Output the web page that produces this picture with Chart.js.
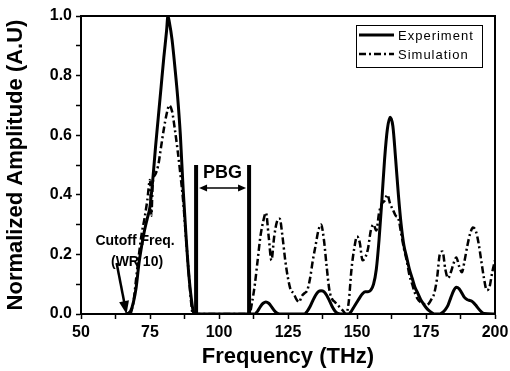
<!DOCTYPE html>
<html>
<head>
<meta charset="utf-8">
<script src="https://cdn.jsdelivr.net/npm/chart.js@4.4.0/dist/chart.umd.min.js"></script>
<style>
html, body { margin: 0; padding: 0; background: #fff; }
</style>
</head>
<body>
<canvas id="myChart" width="510" height="371"></canvas>
<script>
// 實驗 (Experiment) 數據
var expFreq = [66, 67, 68, 69, 70, 71, 72, 73, 74, 75, 76, 77, 78, 79, 80, 81, 81.5, 82, 83, 84, 85, 86, 87, 88, 89, 90, 91,
  111, 113, 114, 115, 116, 117, 118, 119, 120, 121, 122, 131, 132, 133, 134, 135, 136, 137, 138, 139, 140, 141, 142, 143, 144,
  147, 148, 149, 150, 151, 152, 153, 154, 155, 156, 157, 158, 159, 160, 161, 162, 163, 164, 165, 166, 167, 168, 169, 170,
  171, 172, 173, 174, 175, 176, 177, 178, 180, 181, 182, 183, 184, 185, 186, 187, 188, 189, 190, 191, 192, 193, 194, 195, 196, 200];
var expAmp = [0, 0.002, 0.01, 0.04, 0.09, 0.17, 0.23, 0.28, 0.32, 0.36, 0.45, 0.56, 0.66, 0.76, 0.86, 0.95, 1.0, 0.98, 0.92, 0.83, 0.73, 0.6, 0.42, 0.27, 0.14, 0.05, 0,
  0, 0, 0.01, 0.025, 0.036, 0.04, 0.036, 0.025, 0.012, 0.003, 0, 0, 0.01, 0.025, 0.045, 0.063, 0.075, 0.078, 0.075, 0.063, 0.045, 0.025, 0.01, 0.002, 0,
  0, 0.01, 0.025, 0.04, 0.055, 0.068, 0.075, 0.075, 0.08, 0.1, 0.15, 0.25, 0.38, 0.52, 0.62, 0.66, 0.63, 0.52, 0.4, 0.3, 0.23, 0.19, 0.15, 0.12,
  0.09, 0.07, 0.05, 0.035, 0.022, 0.012, 0.005, 0, 0, 0.005, 0.015, 0.03, 0.055, 0.078, 0.09, 0.085, 0.07, 0.055, 0.048, 0.045, 0.04, 0.03, 0.018, 0.008, 0.002, 0, 0];

// 模擬 (Simulation) 數據
var simFreq = [68, 69, 70, 71, 72, 73, 74, 75, 75.5, 76, 77, 78, 79, 80, 81, 82, 83, 84, 85, 86, 87, 88, 89, 90, 90.5,
  111, 112, 113, 114, 115, 116, 117, 118, 119, 120, 121, 122, 123, 124, 125, 126, 127, 128, 129, 130, 131, 132, 133, 134, 135, 136, 137, 138, 139,
  140, 141, 142, 143, 144, 145, 146, 147, 148, 149, 150, 151, 152, 153, 154, 155, 156, 157, 158, 159, 160, 161, 162, 163, 164, 165, 166, 167, 168, 169,
  170, 171, 172, 173, 174, 175, 176, 177, 178, 179, 180, 181, 182, 183, 184, 185, 186, 187, 188, 189, 190, 191, 192, 193, 194, 195, 196, 197, 198, 199, 200];
var simAmp = [0, 0.04, 0.12, 0.2, 0.27, 0.32, 0.38, 0.45, 0.33, 0.44, 0.47, 0.5, 0.56, 0.62, 0.67, 0.7, 0.68, 0.62, 0.55, 0.47, 0.38, 0.26, 0.14, 0.03, 0,
  0, 0.04, 0.1, 0.18, 0.26, 0.31, 0.34, 0.26, 0.18, 0.26, 0.31, 0.32, 0.26, 0.18, 0.12, 0.08, 0.07, 0.05, 0.04, 0.06, 0.07, 0.08, 0.12, 0.18, 0.23, 0.28, 0.3, 0.25, 0.16,
  0.08, 0.05, 0.04, 0.03, 0.02, 0.01, 0, 0.04, 0.15, 0.22, 0.26, 0.24, 0.18, 0.19, 0.22, 0.28, 0.3, 0.28, 0.34, 0.37, 0.38, 0.4, 0.37, 0.35, 0.33, 0.32, 0.27, 0.22, 0.18, 0.13,
  0.1, 0.07, 0.05, 0.04, 0.035, 0.03, 0.035, 0.05, 0.07, 0.12, 0.2, 0.21, 0.15, 0.12, 0.14, 0.17, 0.19, 0.16, 0.14, 0.18, 0.23, 0.27, 0.29, 0.28, 0.24, 0.18, 0.12, 0.08, 0.09, 0.14, 0.18];

// PBG 區間 (兩條邊線)
var pbgEdges = [91.7, 110.9];
var pbgTop = 0.5;
var pbgArrowY = 0.423;

// 軸刻度
var xTicks = [50, 75, 100, 125, 150, 175, 200];
var yTicks = [0.0, 0.2, 0.4, 0.6, 0.8, 1.0];

var FONT = "'Liberation Sans', Arial, sans-serif";

function pts(xs, ys) {
    return xs.map(function (x, i) { return { x: x, y: ys[i] }; });
}

function arrowHead(ctx, x, y, ang, len, half) {
    ctx.beginPath();
    ctx.moveTo(x, y);
    ctx.lineTo(x - len * Math.cos(ang) + half * Math.sin(ang), y - len * Math.sin(ang) - half * Math.cos(ang));
    ctx.lineTo(x - len * Math.cos(ang) - half * Math.sin(ang), y - len * Math.sin(ang) + half * Math.cos(ang));
    ctx.closePath();
    ctx.fill();
}

// 外框、標註與圖例
var extras = {
    id: 'extras',
    afterDraw: function (c) {
        var ctx = c.ctx, a = c.chartArea, xs = c.scales.x, ys = c.scales.y;
        ctx.save();
        ctx.strokeStyle = '#000';
        ctx.fillStyle = '#000';
        ctx.lineWidth = 2;
        ctx.strokeRect(a.left, a.top, a.right - a.left, a.bottom - a.top);

        // PBG 雙箭頭
        var x1 = xs.getPixelForValue(pbgEdges[0]) + 3, x2 = xs.getPixelForValue(pbgEdges[1]) - 3;
        var ay = ys.getPixelForValue(pbgArrowY);
        ctx.lineWidth = 1.5;
        ctx.beginPath(); ctx.moveTo(x1 + 4, ay); ctx.lineTo(x2 - 4, ay); ctx.stroke();
        arrowHead(ctx, x1, ay, Math.PI, 8, 3.5);
        arrowHead(ctx, x2, ay, 0, 8, 3.5);
        ctx.font = 'bold 18px ' + FONT;
        ctx.textAlign = 'center';
        ctx.textBaseline = 'middle';
        ctx.fillText('PBG', (x1 + x2) / 2, ys.getPixelForValue(0.473));

        // Cutoff 標註
        ctx.font = 'bold 14px ' + FONT;
        ctx.fillText('Cutoff Freq.', xs.getPixelForValue(69.6), ys.getPixelForValue(0.245));
        ctx.fillText('(WR 10)', xs.getPixelForValue(70.3), ys.getPixelForValue(0.175));
        var tx = xs.getPixelForValue(62.9), ty = ys.getPixelForValue(0.171);
        var hx = xs.getPixelForValue(66.5), hy = ys.getPixelForValue(0.0);
        var ang = Math.atan2(hy - ty, hx - tx);
        ctx.lineWidth = 2.5;
        ctx.beginPath(); ctx.moveTo(tx, ty); ctx.lineTo(hx - 10 * Math.cos(ang), hy - 10 * Math.sin(ang)); ctx.stroke();
        arrowHead(ctx, hx, hy, ang, 13, 5);

        // 圖例
        var w = 126, h = 42, lx = a.right - 13 - w, ly = a.top + 9;
        ctx.lineWidth = 1;
        ctx.strokeRect(lx + 0.5, ly + 0.5, w, h);
        ctx.textAlign = 'left';
        ctx.font = '13px ' + FONT;
        if ('letterSpacing' in ctx) ctx.letterSpacing = '1px';
        c.data.datasets.filter(function (d) { return d.label; }).forEach(function (d, i) {
            var yy = ly + 10 + i * 19;
            ctx.lineWidth = d.borderWidth;
            ctx.setLineDash(d.borderDash || []);
            ctx.beginPath(); ctx.moveTo(lx + 3, yy); ctx.lineTo(lx + 38, yy); ctx.stroke();
            ctx.setLineDash([]);
            ctx.fillText(d.label, lx + 42, yy + 1);
        });
        ctx.restore();
    }
};

var chart = document.querySelector('#myChart');
var myChart = new Chart(chart, {
    type: 'line',
    data: {
        datasets: [{
            label: 'Experiment',
            data: pts(expFreq, expAmp),
            borderColor: '#000',
            borderWidth: 3,
            cubicInterpolationMode: 'monotone'
        }, {
            label: 'Simulation',
            data: pts(simFreq, simAmp),
            borderColor: '#000',
            borderWidth: 2.5,
            borderDash: [7, 3, 2, 3],
            cubicInterpolationMode: 'monotone'
        }, {
            label: '',
            data: pts([pbgEdges[0], pbgEdges[0]], [0, pbgTop]),
            borderColor: '#000',
            borderWidth: 4
        }, {
            label: '',
            data: pts([pbgEdges[1], pbgEdges[1]], [0, pbgTop]),
            borderColor: '#000',
            borderWidth: 4
        }]
    },
    options: {
        responsive: false,
        animation: false,
        elements: { point: { radius: 0 } },
        layout: { padding: { top: 16, right: 15, left: 0, bottom: 0 } },
        plugins: { legend: { display: false }, tooltip: { enabled: false } },
        scales: {
            x: {
                type: 'linear', min: 50, max: 200,
                afterFit: function (s) { s.height = 57; s.paddingRight = 0; s.paddingLeft = 0; },
                ticks: {
                    stepSize: 12.5, autoSkip: false, maxRotation: 0, padding: 4, color: '#000',
                    font: { family: FONT, size: 16, weight: 'bold' },
                    callback: function (v) { return xTicks.indexOf(v) >= 0 ? v : ''; }
                },
                grid: { drawOnChartArea: false, tickLength: 5, tickColor: '#000', tickWidth: 1.5 },
                border: { color: '#000', width: 2 },
                title: { display: true, text: 'Frequency (THz)', color: '#000', padding: { top: 0, bottom: 1 },
                    font: { family: FONT, size: 22, weight: 'bold' } }
            },
            y: {
                min: 0, max: 1,
                afterFit: function (s) { s.width = 81; },
                ticks: {
                    stepSize: 0.1, autoSkip: false, padding: 4, color: '#000',
                    font: { family: FONT, size: 16, weight: 'bold' },
                    callback: function (v) {
                        var r = Math.round(v * 10) / 10;
                        return yTicks.indexOf(r) >= 0 ? r.toFixed(1) : '';
                    }
                },
                grid: { drawOnChartArea: false, tickLength: 5, tickColor: '#000', tickWidth: 1.5 },
                border: { color: '#000', width: 2 },
                title: { display: true, text: 'Normalized Amplitude (A.U)', color: '#000', padding: { top: 3, bottom: 0 },
                    font: { family: FONT, size: 22, weight: 'bold' } }
            }
        }
    },
    plugins: [extras]
});
</script>
</body>
</html>
